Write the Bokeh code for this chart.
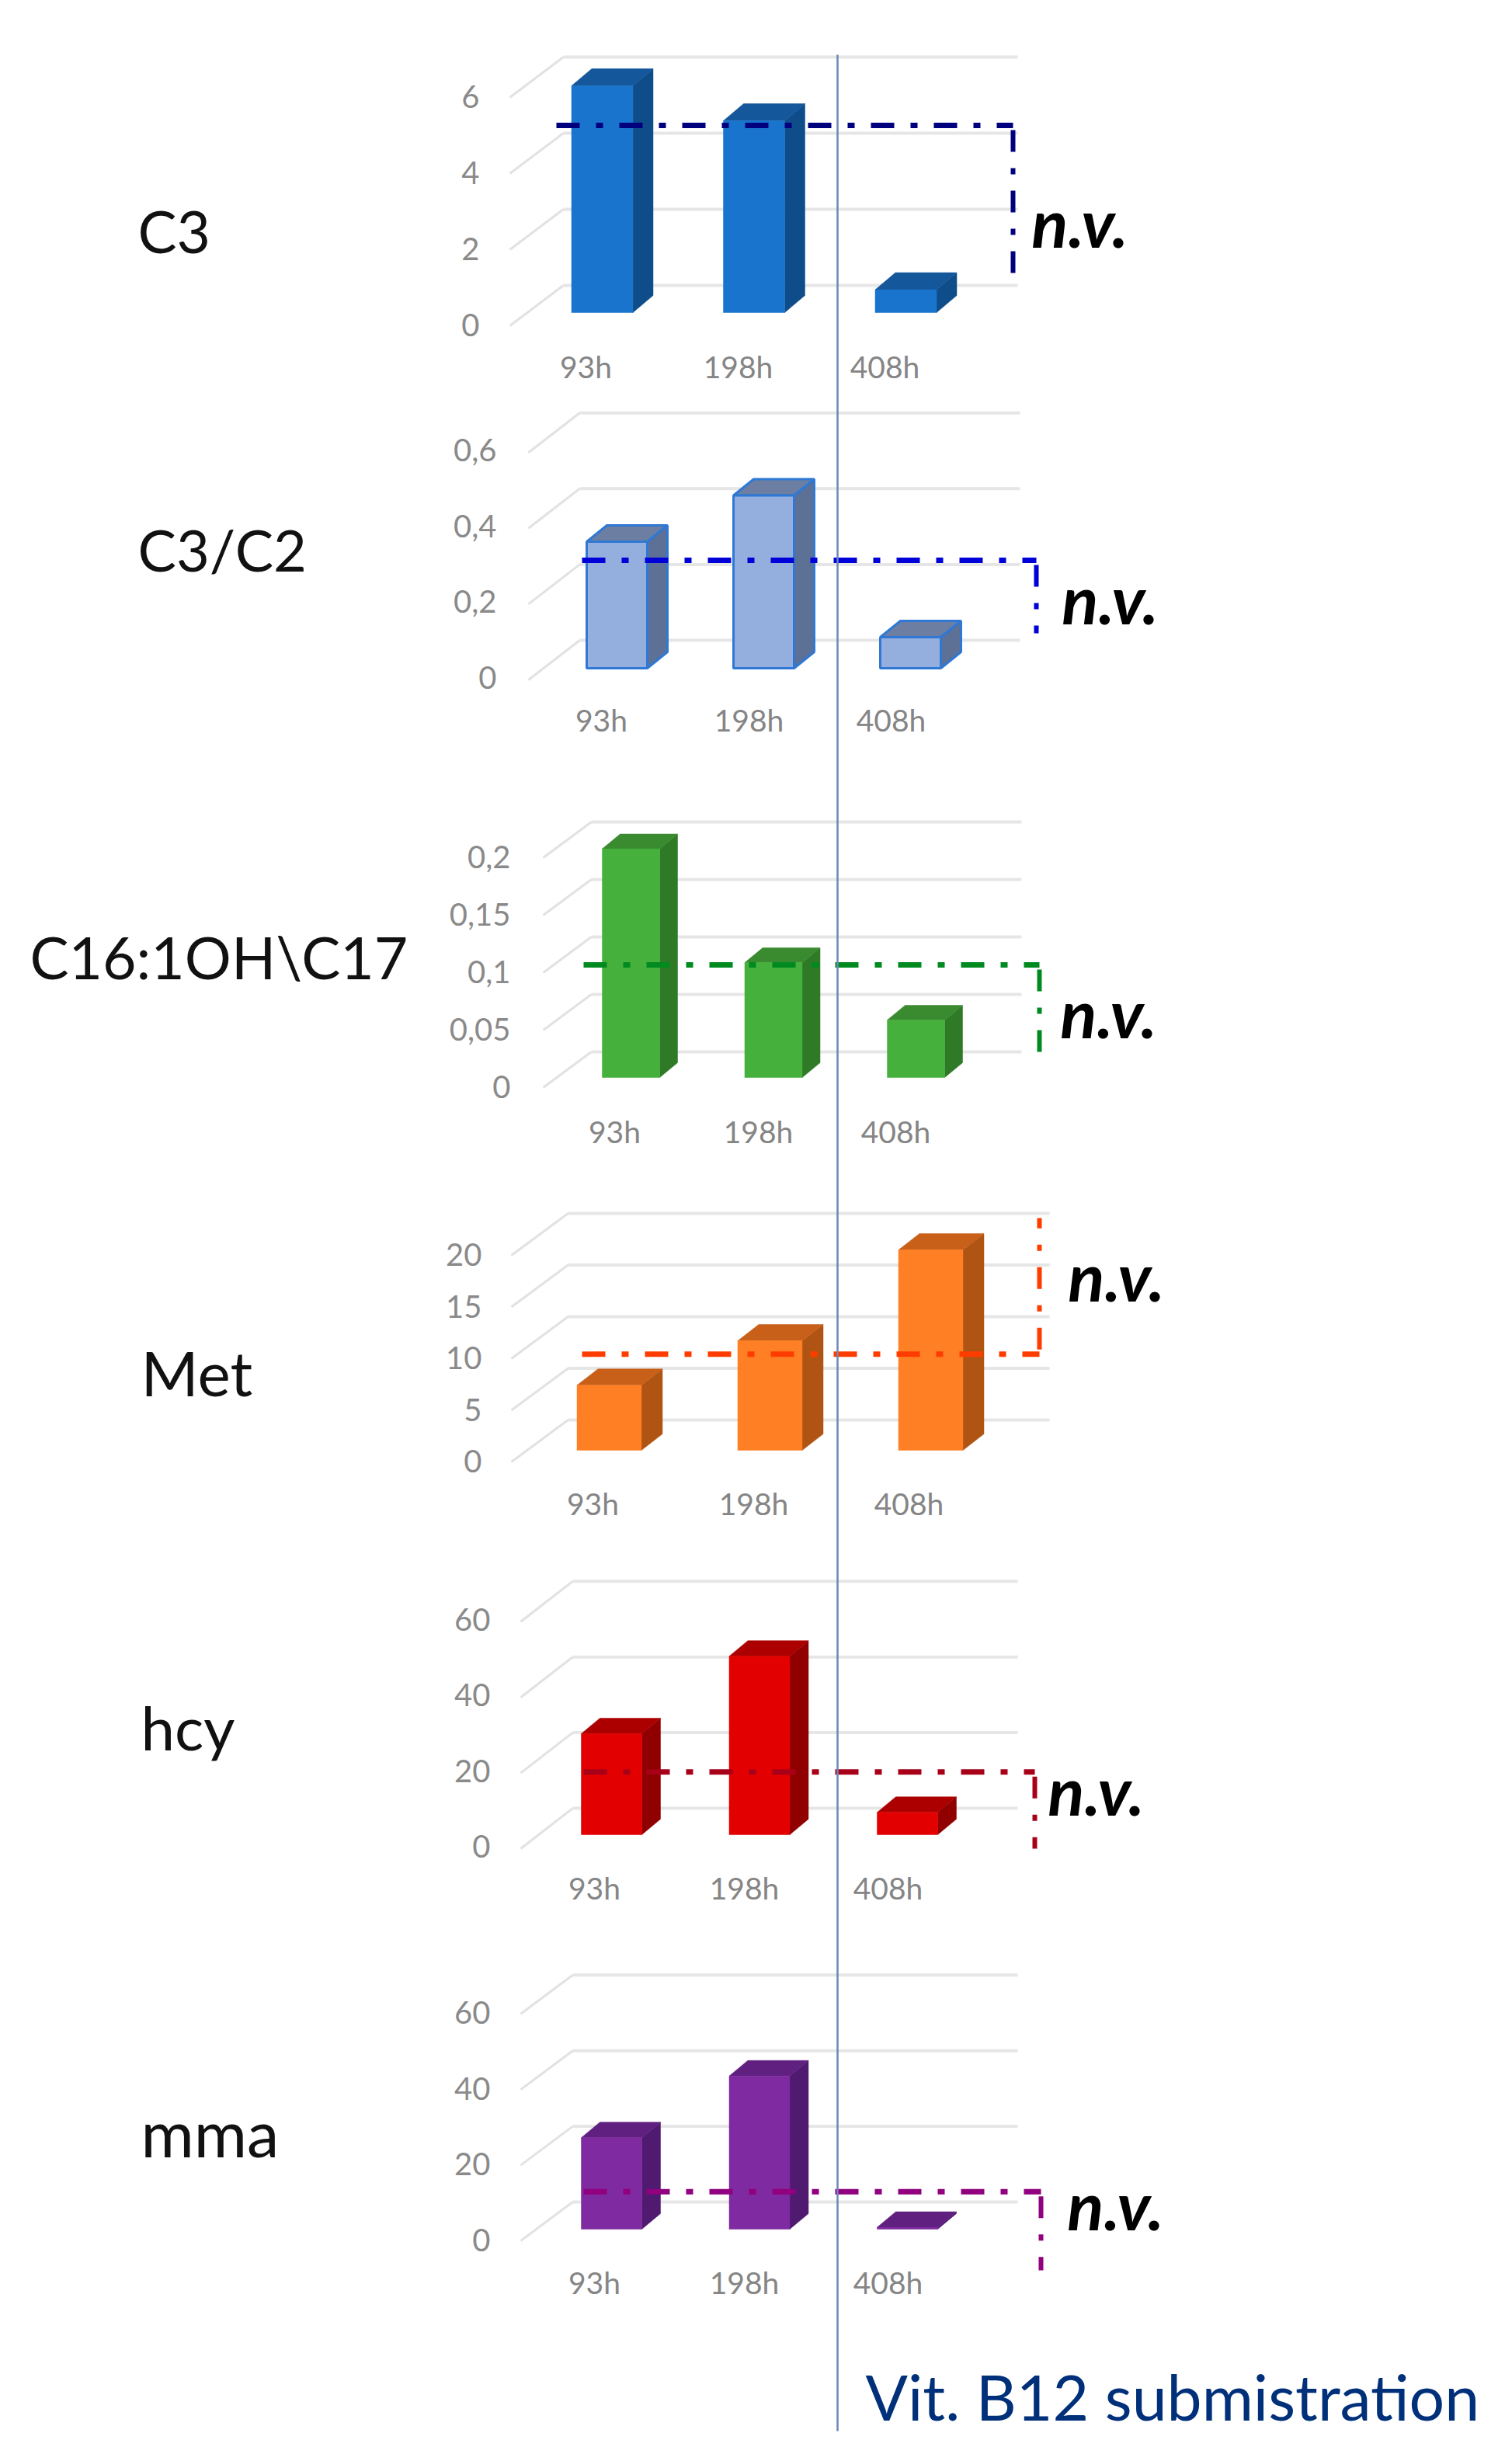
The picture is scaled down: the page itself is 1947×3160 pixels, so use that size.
from bokeh.plotting import figure
from bokeh.models import Range1d
from bokeh.core.properties import value
from bokeh.embed import file_html
from bokeh.resources import INLINE

HOURS = ["93h", "198h", "408h"]

C3_VALUES = [5.96, 5.04, 0.6]
C3_TICKS = [0, 2, 4, 6]
C3_LABELS = ["0", "2", "4", "6"]
C3_LIMIT = 4.92

C3C2_VALUES = [0.334, 0.456, 0.082]
C3C2_TICKS = [0, 0.2, 0.4, 0.6]
C3C2_LABELS = ["0", "0,2", "0,4", "0,6"]
C3C2_LIMIT = 0.285

C16_VALUES = [0.199, 0.1, 0.05]
C16_TICKS = [0, 0.05, 0.1, 0.15, 0.2]
C16_LABELS = ["0", "0,05", "0,1", "0,15", "0,2"]
C16_LIMIT = 0.098

MET_VALUES = [6.3, 10.6, 19.4]
MET_TICKS = [0, 5, 10, 15, 20]
MET_LABELS = ["0", "5", "10", "15", "20"]
MET_LIMIT = 9.3

HCY_VALUES = [26.7, 47.2, 5.9]
HCY_TICKS = [0, 20, 40, 60]
HCY_LABELS = ["0", "20", "40", "60"]
HCY_LIMIT = 16.6

MMA_VALUES = [24.2, 40.5, 0.5]
MMA_TICKS = [0, 20, 40, 60]
MMA_LABELS = ["0", "20", "40", "60"]
MMA_LIMIT = 9.9

PANELS = [
    dict(name="C3", v=C3_VALUES, t=C3_TICKS, l=C3_LABELS, lim=C3_LIMIT, fs=75, lab=1.5,
         front="#1874cd", side="#0f4d8a", top="#15579b", edge=None, dash="#00007f",
         x0=775, step=195.5, bw=79, base=402, scale=49, ddx=26, ddy=22, rise=35, drop=17,
         dx0=656, gx0=725, gx1=1310, tr=617, xly=471, xlx=[754, 950, 1139],
         th0=716, th1=1304, thend=358, nv=(1390, 285), nx=177, ny=296),
    dict(name="C3/C2", v=C3C2_VALUES, t=C3C2_TICKS, l=C3C2_LABELS, lim=C3C2_LIMIT, fs=74, lab=3,
         front="#94aede", side="#5d7096", top="#6c7fa3", edge="#2f78d4", dash="#0000d8",
         x0=794, step=189, bw=78, base=860, scale=488, ddx=26, ddy=21, rise=36, drop=15,
         dx0=680, gx0=746, gx1=1313, tr=639, xly=926, xlx=[774, 964, 1147],
         th0=749, th1=1334, thend=815, nv=(1429, 770), nx=177, ny=707),
    dict(name="C16:1OH\\C17", v=C16_VALUES, t=C16_TICKS, l=C16_LABELS, lim=C16_LIMIT, fs=75, lab=1,
         front="#46b03c", side="#2f7a27", top="#3a8a30", edge=None, dash="#008a20",
         x0=812, step=183.5, bw=74, base=1387, scale=1480, ddx=23, ddy=19, rise=33, drop=13,
         dx0=699, gx0=761, gx1=1315, tr=657, xly=1456, xlx=[791, 976, 1153],
         th0=751, th1=1338, thend=1358, nv=(1427, 1303), nx=38, ny=1231),
    dict(name="Met", v=MET_VALUES, t=MET_TICKS, l=MET_LABELS, lim=MET_LIMIT, fs=80, lab=1,
         front="#ff7f24", side="#b05414", top="#c9601a", edge=None, dash="#ff3c00",
         x0=784, step=207, bw=83, base=1867, scale=13.3, ddx=27, ddy=21, rise=39, drop=15,
         dx0=658, gx0=731, gx1=1351, tr=620, xly=1935, xlx=[763, 970, 1170],
         th0=749, th1=1338, thend=1568, nv=(1437, 1642), nx=181, ny=1766),
    dict(name="hcy", v=HCY_VALUES, t=HCY_TICKS, l=HCY_LABELS, lim=HCY_LIMIT, fs=78, lab=3,
         front="#e30000", side="#900000", top="#ac0000", edge=None, dash="#a80018",
         x0=787, step=190.5, bw=78, base=2362, scale=4.87, ddx=24, ddy=20, rise=34, drop=18,
         dx0=670, gx0=737, gx1=1310, tr=631, xly=2430, xlx=[765, 958, 1143],
         th0=751, th1=1332, thend=2380, nv=(1411, 2304), nx=181, ny=2223),
    dict(name="mma", v=MMA_VALUES, t=MMA_TICKS, l=MMA_LABELS, lim=MMA_LIMIT, fs=83, lab=1.5,
         front="#7f2aa0", side="#4f1a70", top="#5f2080", edge=None, dash="#90007f",
         x0=787, step=190.5, bw=78, base=2870, scale=4.87, ddx=24, ddy=20, rise=35, drop=15,
         dx0=670, gx0=737, gx1=1310, tr=631, xly=2938, xlx=[765, 958, 1143],
         th0=751, th1=1340, thend=2923, nv=(1436, 2838), nx=181, ny=2745),
]

LEFT, TOP, W, H = 0, 0, 1931, 3144
p = figure(width=W, height=H, output_backend="svg", toolbar_location=None,
           x_range=Range1d(LEFT, LEFT + W), y_range=Range1d(TOP + H, TOP),
           x_axis_location=None, y_axis_location=None, min_border=0, outline_line_color=None)
p.grid.visible = False
p.background_fill_color = "white"

FONT = value("Lato")

for k, c in enumerate(PANELS):
    xn, yn = f"x{k}", f"y{k}"
    p.extra_x_ranges[xn] = Range1d((LEFT - c["x0"]) / c["step"], (LEFT + W - c["x0"]) / c["step"])
    p.extra_y_ranges[yn] = Range1d((c["base"] - TOP - H) / c["scale"], (c["base"] - TOP) / c["scale"])
    kw = dict(x_range_name=xn, y_range_name=yn)

    def X(px):
        return (px - c["x0"]) / c["step"]

    def DY(px):
        return px / c["scale"]

    hw = c["bw"] / 2 / c["step"]
    ddx, ddy = c["ddx"] / c["step"], DY(c["ddy"])
    rise, drop = DY(c["rise"]), DY(c["drop"])

    # back wall grid lines and the slanted floor/side lines
    for t in c["t"]:
        p.line([X(c["gx0"]), X(c["gx1"])], [t + rise, t + rise], line_color="#e6e6e6", line_width=4, **kw)
        p.line([X(c["dx0"]), X(c["gx0"])], [t - drop, t + rise], line_color="#e2e2e2", line_width=3, **kw)

    # 3D columns: side face, top face, front face
    idx = list(range(len(c["v"])))
    side_x = [[i + hw, i + hw + ddx, i + hw + ddx, i + hw] for i in idx]
    side_y = [[0, ddy, v + ddy, v] for v in c["v"]]
    top_x = [[i - hw, i - hw + ddx, i + hw + ddx, i + hw] for i in idx]
    top_y = [[v, v + ddy, v + ddy, v] for v in c["v"]]
    edge = c["edge"] or c["front"]
    ew = 3 if c["edge"] else 0.5
    p.patches(side_x, side_y, fill_color=c["side"], line_color=c["edge"] or c["side"], line_width=ew, **kw)
    p.patches(top_x, top_y, fill_color=c["top"], line_color=c["edge"] or c["top"], line_width=ew, **kw)
    p.quad(left=[i - hw for i in idx], right=[i + hw for i in idx], bottom=[0] * len(idx), top=c["v"],
           fill_color=c["front"], line_color=edge, line_width=ew, **kw)

    # normal-value limit line: the dash pattern restarts at the corner
    lim = c["lim"]
    end = (c["base"] - c["thend"]) / c["scale"]
    corner = lim + (DY(6) if end > lim else -DY(6))
    p.line([X(c["th0"]), X(c["th1"])], [lim, lim],
           line_color=c["dash"], line_width=7, line_dash="30 21 9 21", **kw)
    p.line([X(c["th1"]), X(c["th1"])], [corner, end],
           line_color=c["dash"], line_width=6, line_dash="28 21 8 21", **kw)

    # value and time labels
    p.text([X(c["tr"])] * len(c["t"]), [t - drop + DY(c["lab"]) for t in c["t"]], text=c["l"],
           text_font=FONT, text_font_size=value("40px"), text_color="#8a8a8a",
           text_align="right", text_baseline="middle", **kw)
    p.text([X(x) for x in c["xlx"]], [(c["base"] - c["xly"]) / c["scale"]] * 3, text=HOURS,
           text_font=FONT, text_font_size=value("39px"), text_color="#858585",
           text_align="center", text_baseline="middle", **kw)

    # panel title and n.v. mark
    p.text([c["nx"]], [c["ny"]], text=[c["name"]], text_font=FONT, text_font_size=value(f'{c["fs"]}px'),
           text_color="#111111", text_align="left", text_baseline="middle")
    p.text([c["nv"][0]], [c["nv"][1]], text=["n.v."], text_font=FONT, text_font_size=value("87px"),
           text_font_style="bold italic", text_color="#000000", text_align="center", text_baseline="middle")

p.line([1078, 1078], [70, 3130], line_color="#6b88b8", line_width=2.5)
p.text([1114], [3085], text=["Vit. B12 submistration"], text_font=FONT, text_font_size=value("80.5px"),
       text_color="#00307a", text_align="left", text_baseline="middle")

open("out.html", "w").write(file_html(p, INLINE))
